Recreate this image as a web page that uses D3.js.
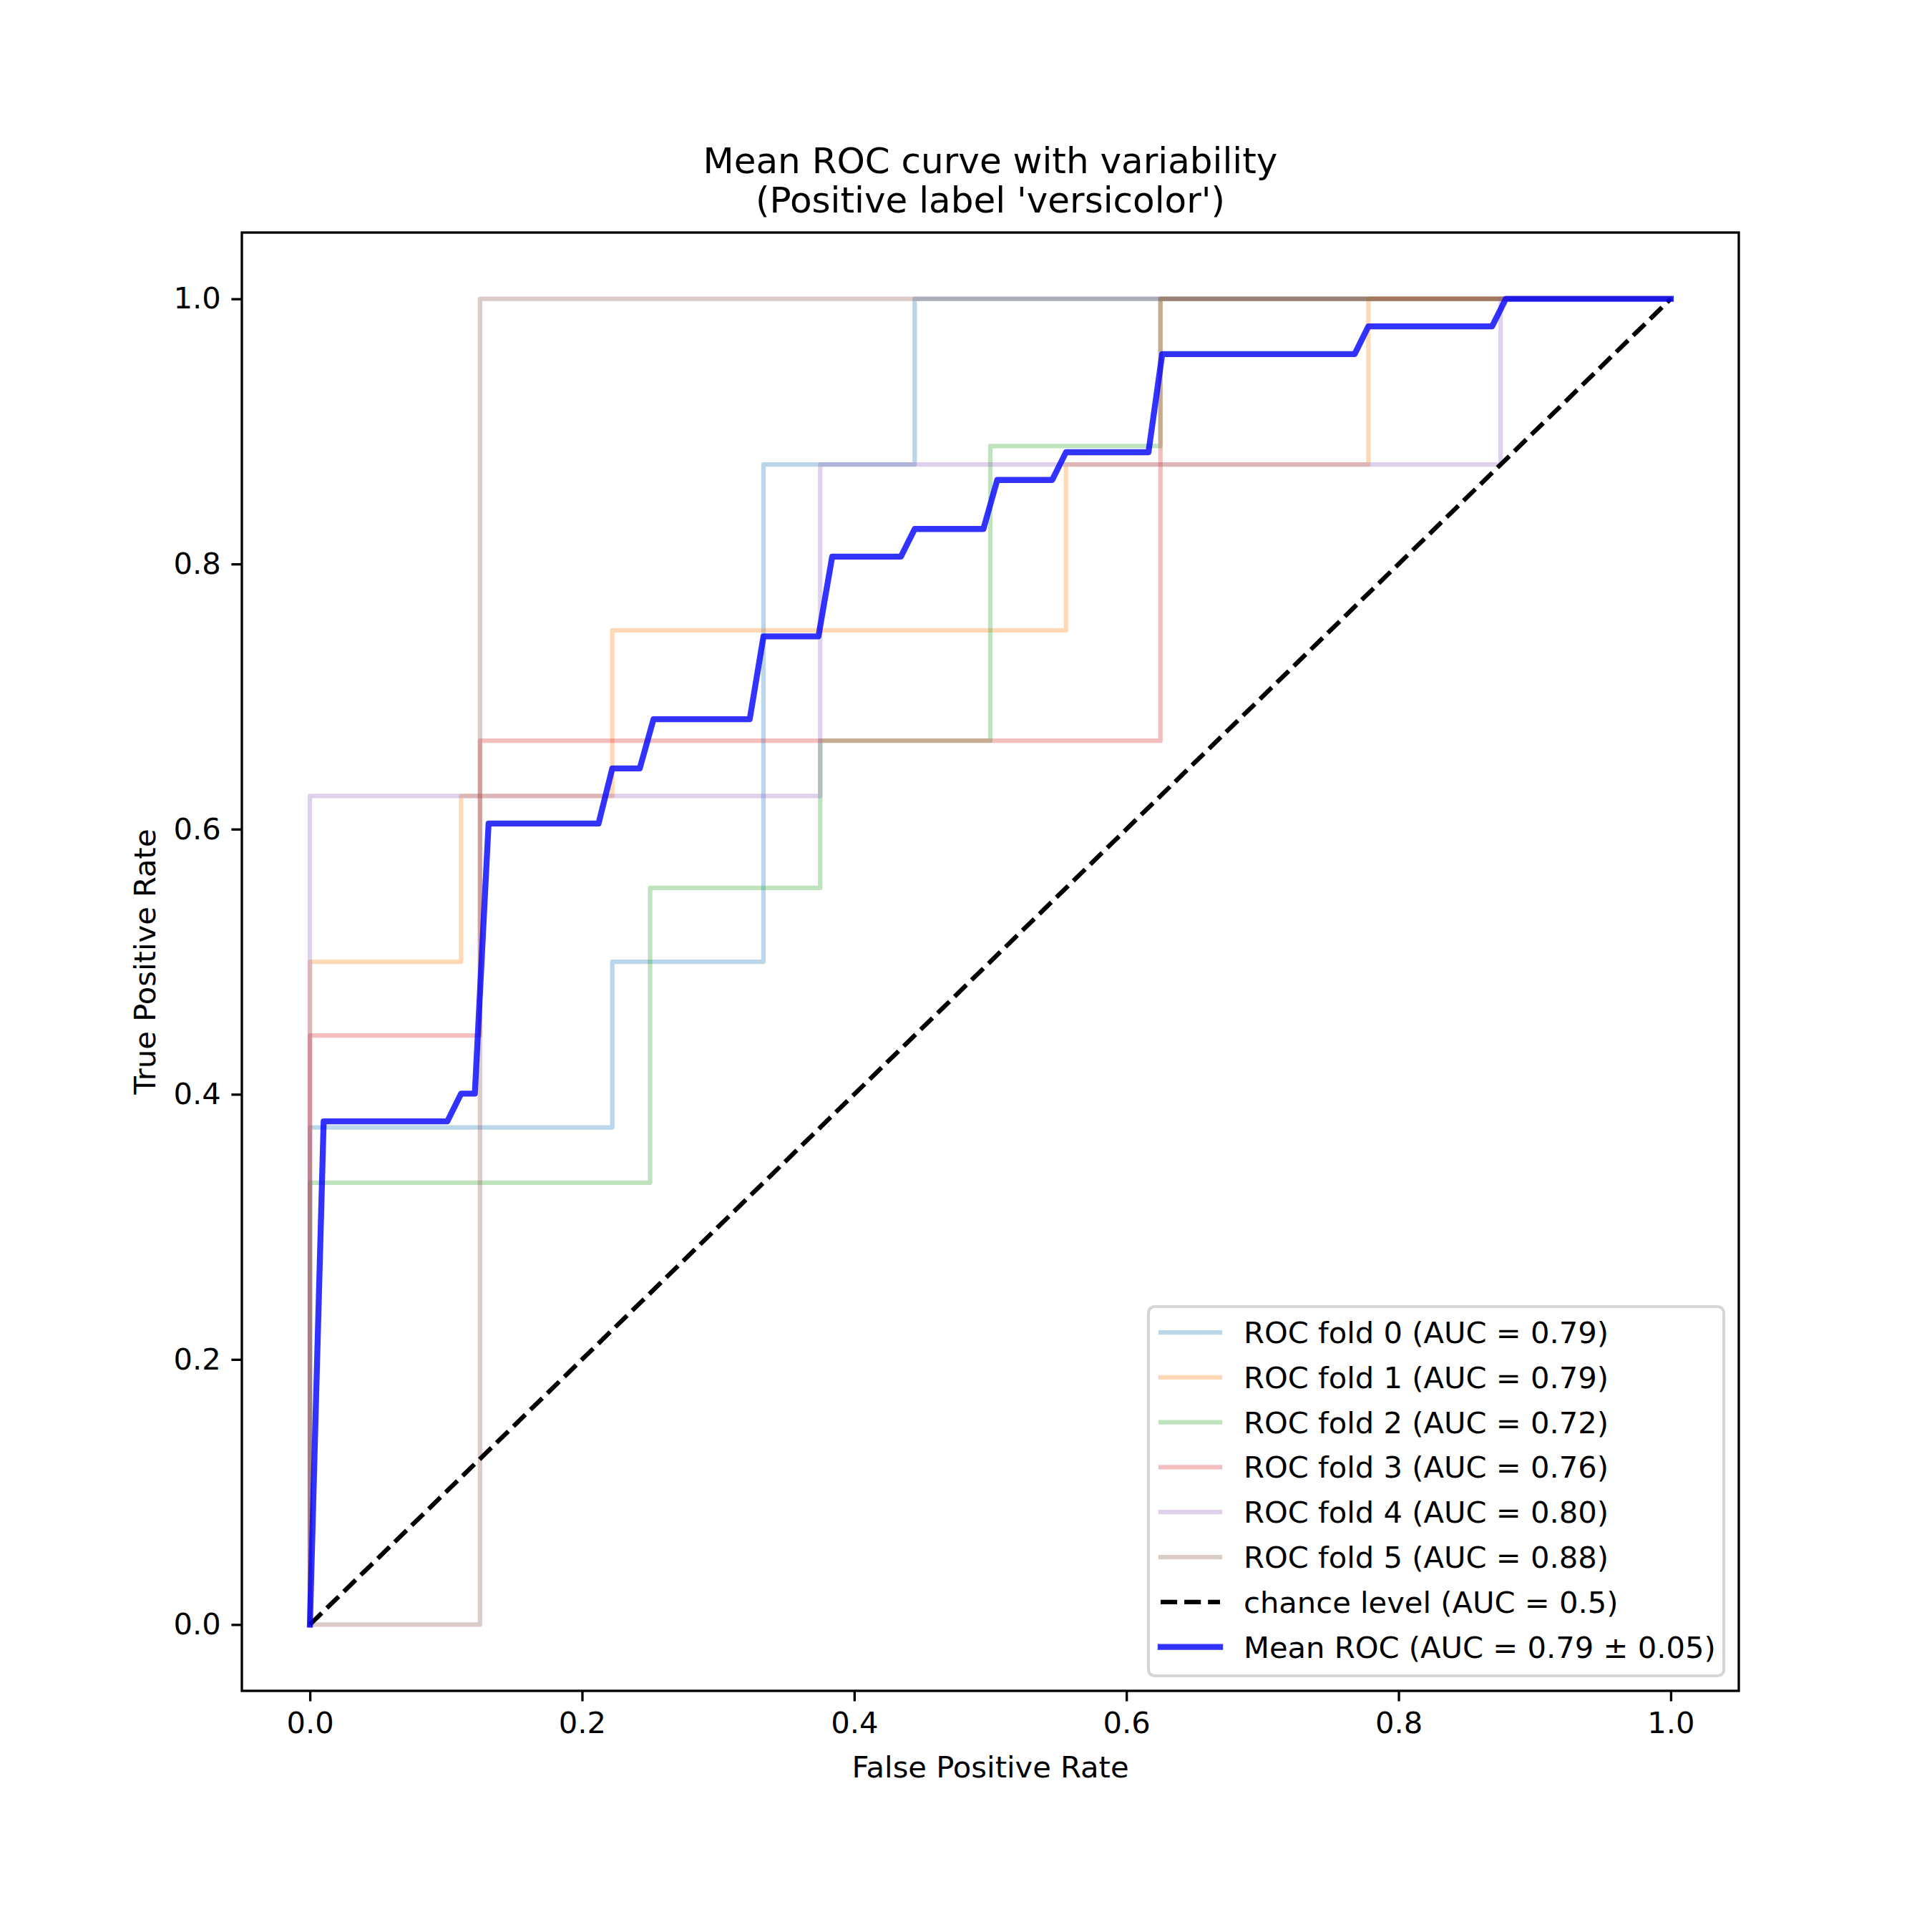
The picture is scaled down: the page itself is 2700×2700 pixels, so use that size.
<!DOCTYPE html>
<html>
<head>
<meta charset="utf-8">
<script src="https://cdn.jsdelivr.net/npm/d3@7"></script>
<style>
  html, body { margin: 0; padding: 0; background: #ffffff; }
  svg text { font-family: "DejaVu Sans", sans-serif; fill: #000000; }
</style>
</head>
<body>
<div id="chart"></div>
<script>
// Data
const foldLabels = ["ROC fold 0", "ROC fold 1", "ROC fold 2", "ROC fold 3", "ROC fold 4", "ROC fold 5"];
const foldAuc = [0.79, 0.79, 0.72, 0.76, 0.80, 0.88];

const fold0Fpr = [0, 0, 0.2222, 0.2222, 0.3333, 0.3333, 0.4444, 0.4444, 1];
const fold0Tpr = [0, 0.375, 0.375, 0.5, 0.5, 0.875, 0.875, 1, 1];
const fold1Fpr = [0, 0, 0.1111, 0.1111, 0.2222, 0.2222, 0.5556, 0.5556, 0.7778, 0.7778, 1];
const fold1Tpr = [0, 0.5, 0.5, 0.625, 0.625, 0.75, 0.75, 0.875, 0.875, 1, 1];
const fold2Fpr = [0, 0, 0.25, 0.25, 0.375, 0.375, 0.5, 0.5, 0.625, 0.625, 1];
const fold2Tpr = [0, 0.3333, 0.3333, 0.5556, 0.5556, 0.6667, 0.6667, 0.8889, 0.8889, 1, 1];
const fold3Fpr = [0, 0, 0.125, 0.125, 0.625, 0.625, 1];
const fold3Tpr = [0, 0.4444, 0.4444, 0.6667, 0.6667, 1, 1];
const fold4Fpr = [0, 0, 0.375, 0.375, 0.875, 0.875, 1];
const fold4Tpr = [0, 0.625, 0.625, 0.875, 0.875, 1, 1];
const fold5Fpr = [0, 0.125, 0.125, 1];
const fold5Tpr = [0, 0, 1, 1];

const meanFpr = [0, 0.0101, 0.1010, 0.1111, 0.1212, 0.1313, 0.2121, 0.2222, 0.2424, 0.2525,
  0.3232, 0.3333, 0.3737, 0.3838, 0.4343, 0.4444, 0.4949, 0.5051, 0.5455, 0.5556,
  0.6162, 0.6263, 0.7677, 0.7778, 0.8687, 0.8788, 1];
const meanTpr = [0, 0.3796, 0.3796, 0.4005, 0.4005, 0.6042, 0.6042, 0.6458, 0.6458, 0.6829,
  0.6829, 0.7454, 0.7454, 0.8056, 0.8056, 0.8264, 0.8264, 0.8634, 0.8634, 0.8843,
  0.8843, 0.9583, 0.9583, 0.9792, 0.9792, 1, 1];
const meanAuc = 0.79, stdAuc = 0.05;

const chanceFpr = [0, 1];
const chanceTpr = [0, 1];

const tickValues = [0, 0.2, 0.4, 0.6, 0.8, 1.0];
const titleLines = ["Mean ROC curve with variability", "(Positive label 'versicolor')"];

const foldColors = ["#1f77b4", "#ff7f0e", "#2ca02c", "#d62728", "#9467bd", "#8c564b"];

// Layout
const W = 2700, H = 2700;
const box = { left: 338, right: 2430, top: 325, bottom: 2363 };
const fs = 41.67; // 10pt at 300 dpi
const foldWidth = 6.25, meanWidth = 8.33, chanceWidth = 6.25;

const svg = d3.select("#chart").append("svg")
  .attr("width", W)
  .attr("height", H);

svg.append("rect").attr("width", W).attr("height", H).attr("fill", "#ffffff");

const x = d3.scaleLinear().domain([-0.05, 1.05]).range([box.left, box.right]);
const y = d3.scaleLinear().domain([-0.05, 1.05]).range([box.bottom, box.top]);

svg.append("clipPath").attr("id", "plot-clip")
  .append("rect")
  .attr("x", box.left).attr("y", box.top)
  .attr("width", box.right - box.left).attr("height", box.bottom - box.top);

const plot = svg.append("g").attr("clip-path", "url(#plot-clip)");

const line = d3.line().x(d => x(d[0])).y(d => y(d[1]));
const zipPts = (a, b) => a.map((v, i) => [v, b[i]]);

const folds = [
  zipPts(fold0Fpr, fold0Tpr), zipPts(fold1Fpr, fold1Tpr), zipPts(fold2Fpr, fold2Tpr),
  zipPts(fold3Fpr, fold3Tpr), zipPts(fold4Fpr, fold4Tpr), zipPts(fold5Fpr, fold5Tpr)
];

// Fold curves
folds.forEach((pts, i) => {
  plot.append("path")
    .attr("d", line(pts))
    .attr("fill", "none")
    .attr("stroke", foldColors[i])
    .attr("stroke-opacity", 0.3)
    .attr("stroke-width", foldWidth)
    .attr("stroke-linejoin", "round")
    .attr("stroke-linecap", "square");
});

// Chance level
plot.append("path")
  .attr("d", line(zipPts(chanceFpr, chanceTpr)))
  .attr("fill", "none")
  .attr("stroke", "#000000")
  .attr("stroke-width", chanceWidth)
  .attr("stroke-dasharray", "23.1,10")
  .attr("stroke-linecap", "butt");

// Mean ROC
plot.append("path")
  .attr("d", line(zipPts(meanFpr, meanTpr)))
  .attr("fill", "none")
  .attr("stroke", "#0000ff")
  .attr("stroke-opacity", 0.8)
  .attr("stroke-width", meanWidth)
  .attr("stroke-linejoin", "round")
  .attr("stroke-linecap", "square");

// Axes
const fmt = d3.format(".1f");
const xAxis = svg.append("g")
  .attr("transform", `translate(0,${box.bottom})`)
  .call(d3.axisBottom(x).tickValues(tickValues).tickFormat(fmt).tickSize(14.6).tickPadding(14.6));
const yAxis = svg.append("g")
  .attr("transform", `translate(${box.left},0)`)
  .call(d3.axisLeft(y).tickValues(tickValues).tickFormat(fmt).tickSize(14.6).tickPadding(14.6));

[xAxis, yAxis].forEach(g => {
  g.select(".domain").remove();
  g.selectAll(".tick line").attr("stroke", "#000000").attr("stroke-width", 3.33);
  g.selectAll(".tick text")
    .style("font-family", "'DejaVu Sans', sans-serif")
    .style("font-size", fs + "px")
    .attr("fill", "#000000");
});

// Spines
svg.append("rect")
  .attr("x", box.left).attr("y", box.top)
  .attr("width", box.right - box.left).attr("height", box.bottom - box.top)
  .attr("fill", "none")
  .attr("stroke", "#000000")
  .attr("stroke-width", 3.33)
  .attr("stroke-linejoin", "miter");

// Axis labels
const cx = (box.left + box.right) / 2, cy = (box.top + box.bottom) / 2;
svg.append("text")
  .attr("x", cx).attr("y", 2484)
  .attr("text-anchor", "middle")
  .style("font-size", fs + "px")
  .text("False Positive Rate");
svg.append("text")
  .attr("transform", `translate(217,${cy}) rotate(-90)`)
  .attr("text-anchor", "middle")
  .style("font-size", fs + "px")
  .text("True Positive Rate");

// Title
titleLines.forEach((t, i) => {
  svg.append("text")
    .attr("x", cx).attr("y", 242 + i * 55)
    .attr("text-anchor", "middle")
    .style("font-size", "50px")
    .text(t);
});

// Legend
const legendItems = foldLabels.map((name, i) => ({
  label: `${name} (AUC = ${foldAuc[i].toFixed(2)})`,
  color: foldColors[i], opacity: 0.3, width: foldWidth, dash: null
}));
legendItems.push({ label: "chance level (AUC = 0.5)", color: "#000000", opacity: 1, width: chanceWidth, dash: "23.1,10" });
legendItems.push({ label: `Mean ROC (AUC = ${meanAuc.toFixed(2)} \u00b1 ${stdAuc.toFixed(2)})`, color: "#0000ff", opacity: 0.8, width: meanWidth, dash: null });

const legend = svg.append("g");
legend.append("rect")
  .attr("x", 1605).attr("y", 1826)
  .attr("width", 2409 - 1605).attr("height", 2342 - 1826)
  .attr("rx", 8.3).attr("ry", 8.3)
  .attr("fill", "#ffffff").attr("fill-opacity", 0.8)
  .attr("stroke", "#cccccc").attr("stroke-opacity", 0.8)
  .attr("stroke-width", 4.17);

const rowStep = 62.8;
legendItems.forEach((d, i) => {
  const ry = 1862 + i * rowStep;
  const l = legend.append("line")
    .attr("x1", 1622).attr("x2", 1705)
    .attr("y1", ry).attr("y2", ry)
    .attr("stroke", d.color)
    .attr("stroke-opacity", d.opacity)
    .attr("stroke-width", d.width)
    .attr("stroke-linecap", d.dash ? "butt" : "square");
  if (d.dash) l.attr("stroke-dasharray", d.dash);
  legend.append("text")
    .attr("x", 1738).attr("y", ry + 15)
    .style("font-size", fs + "px")
    .text(d.label);
});
</script>
</body>
</html>
